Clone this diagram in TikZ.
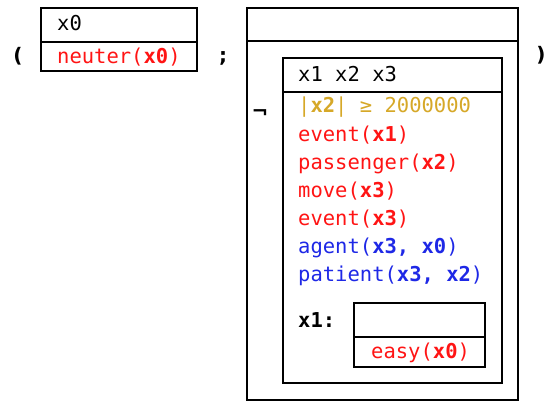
\documentclass[tikz,border=0pt]{standalone}
\usepackage{fontspec}
\setmonofont{DejaVu Sans Mono}
\newfontfamily\symfont{DejaVu Sans}
\definecolor{predred}{RGB}{255,20,20}
\definecolor{condgold}{RGB}{214,168,40}
\definecolor{relblue}{RGB}{30,40,230}
\begin{document}
\begin{tikzpicture}[x=1pt,y=-1pt,
  drsbox/.style={draw=black,line width=2.2pt},
  txt/.style={anchor=base west,inner sep=0pt,font=\fontsize{20.5}{20.5}\selectfont\ttfamily},
  sym/.style={anchor=base,inner sep=0pt,font=\fontsize{20}{20}\selectfont\symfont\bfseries}]
\useasboundingbox (0,0) rectangle (545,401);
% left DRS: referent x0 with condition neuter(x0)
\draw[drsbox] (41,8) rectangle (197,71);
\draw[drsbox] (41,42) -- (197,42);
\node[txt] (x0) at (57,31) {x0};
\node[txt,text=predred] (neuter) at (57,64) {neuter(\textbf{x0})};
% merge brackets and separator
\node[sym] (lpar) at (18,63) {(};
\node[sym] (semi) at (223,63) {;};
\node[sym] (rpar) at (541,62) {)};
% outer DRS containing the negation
\draw[drsbox] (247,8) rectangle (518,400);
\draw[drsbox] (247,41) -- (518,41);
\node[sym] (neg) at (260,118) {¬};
% negated inner DRS
\draw[drsbox] (283,58) rectangle (502,383);
\draw[drsbox] (283,92) -- (502,92);
\node[txt] (refs) at (298,82) {x1 x2 x3};
\node[txt,text=condgold] (card) at (298,113) {|\textbf{x2}| ≥ 2000000};
\node[txt,text=predred] (c1) at (298,141) {event(\textbf{x1})};
\node[txt,text=predred] (c2) at (298,169) {passenger(\textbf{x2})};
\node[txt,text=predred] (c3) at (298,197) {move(\textbf{x3})};
\node[txt,text=predred] (c4) at (298,225) {event(\textbf{x3})};
\node[txt,text=relblue] (c5) at (298,253) {agent(\textbf{x3, x0})};
\node[txt,text=relblue] (c6) at (298,281) {patient(\textbf{x3, x2})};
\node[txt] (prop) at (298,327) {\textbf{x1:}};
% proposition DRS for x1
\draw[drsbox] (354,303) rectangle (485,367);
\draw[drsbox] (354,337) -- (485,337);
\node[txt,text=predred] (easy) at (371,358) {easy(\textbf{x0})};
\end{tikzpicture}
\end{document}
